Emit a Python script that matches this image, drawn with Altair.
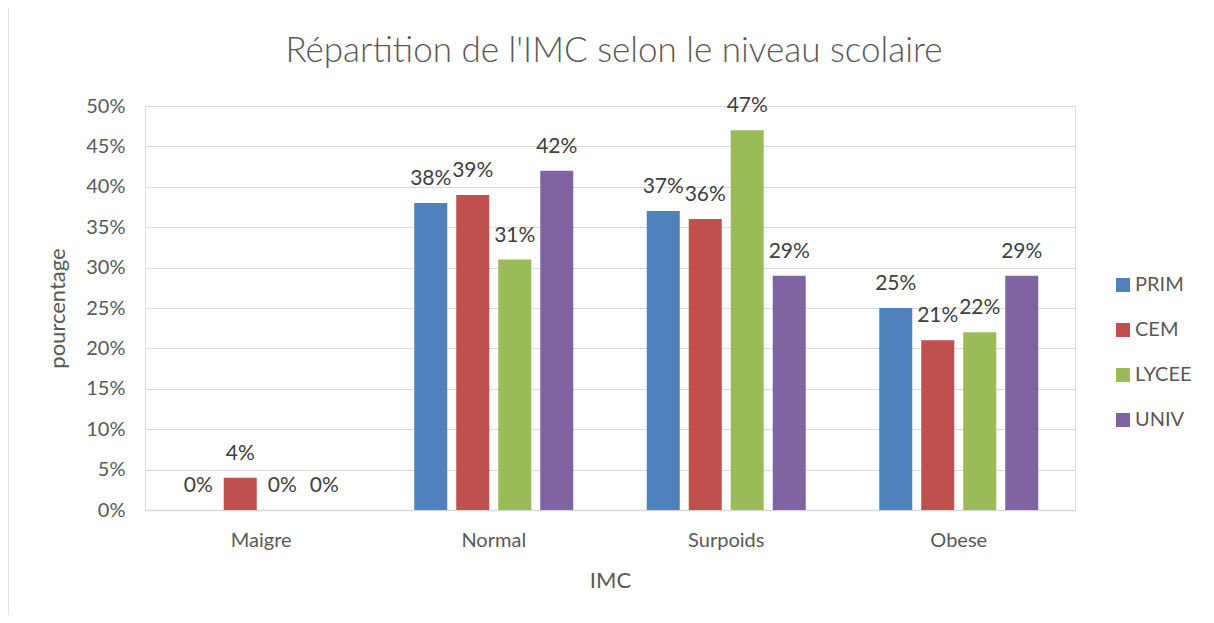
import altair as alt
import pandas as pd

categories = ["Maigre", "Normal", "Surpoids", "Obese"]
series = ["PRIM", "CEM", "LYCEE", "UNIV"]
prim = [0.00, 0.38, 0.37, 0.25]
cem = [0.04, 0.39, 0.36, 0.21]
lycee = [0.00, 0.31, 0.47, 0.22]
univ = [0.00, 0.42, 0.29, 0.29]
colors = ["#4F81BD", "#C0504D", "#9BBB59", "#8064A2"]
y_ticks = [0, 0.05, 0.10, 0.15, 0.20, 0.25, 0.30, 0.35, 0.40, 0.45, 0.50]

rows = []
for s, vals in zip(series, [prim, cem, lycee, univ]):
    for c, v in zip(categories, vals):
        rows.append({"IMC": c, "Niveau": s, "value": v})
df = pd.DataFrame(rows)

W, H = 930, 404
FONT = "Lato"
GREY = "#595959"

base = alt.Chart(df).encode(
    x=alt.X(
        "IMC:N",
        sort=categories,
        scale=alt.Scale(paddingInner=0, paddingOuter=0),
        axis=alt.Axis(
            title="IMC",
            labelAngle=0,
            ticks=False,
            domainColor="#d9d9d9",
            domainWidth=1.5,
            labelFontSize=20,
            labelColor=GREY,
            labelFont=FONT,
            labelPadding=20,
            titleFontSize=22,
            titleFont=FONT,
            titleColor=GREY,
            titleFontWeight="normal",
            titlePadding=20,
        ),
    ),
    xOffset=alt.XOffset(
        "Niveau:N",
        sort=series,
        scale=alt.Scale(paddingInner=0.214, paddingOuter=0.875),
    ),
    y=alt.Y(
        "value:Q",
        scale=alt.Scale(domain=[0, 0.5], nice=False),
        axis=alt.Axis(
            title="pourcentage",
            values=y_ticks,
            format=".0%",
            ticks=False,
            domain=False,
            gridColor="#d9d9d9",
            gridWidth=1.2,
            labelFontSize=20,
            labelColor=GREY,
            labelFont=FONT,
            labelPadding=20,
            titleFontSize=22,
            titleFont=FONT,
            titleColor=GREY,
            titleFontWeight="normal",
            titlePadding=16,
        ),
    ),
)

bars = base.mark_bar().encode(
    color=alt.Color(
        "Niveau:N",
        sort=series,
        scale=alt.Scale(domain=series, range=colors),
        legend=alt.Legend(
            title=None,
            orient="none",
            legendX=968,
            legendY=169,
            symbolType="square",
            symbolSize=196,
            symbolStrokeWidth=0,
            labelFontSize=20,
            labelFont=FONT,
            labelColor=GREY,
            labelOffset=2,
            rowPadding=25,
        ),
    )
)

labels = base.mark_text(
    baseline="bottom", dy=-14, fontSize=21, font=FONT, color="#404040"
).encode(text=alt.Text("value:Q", format=".0%"))

frame_df = pd.DataFrame({"k": [0]})
frame_left = alt.Chart(frame_df).mark_rule(color="#d9d9d9", strokeWidth=1.5).encode(
    x=alt.value(-137), y=alt.value(-99), y2=alt.value(H + 120)
)
frame_top = alt.Chart(frame_df).mark_rule(color="#d9d9d9", strokeWidth=1.5).encode(
    x=alt.value(-137), x2=alt.value(1070), y=alt.value(-99)
)

chart = (
    alt.layer(bars, labels, frame_left, frame_top)
    .properties(
        width=W,
        height=H,
        title=alt.TitleParams(
            "Répartition de l'IMC selon le niveau scolaire",
            fontSize=35,
            font=FONT,
            fontWeight=300,
            color=GREY,
            anchor="middle",
            offset=-63,
            dx=4,
        ),
        autosize=alt.AutoSizeParams(type="none"),
        padding={"left": 137, "top": 98, "right": 131, "bottom": 105},
    )
    .configure_view(stroke=None)
    .configure(background="white")
)

chart.save("out.html", embed_options={"renderer": "svg", "actions": False})
